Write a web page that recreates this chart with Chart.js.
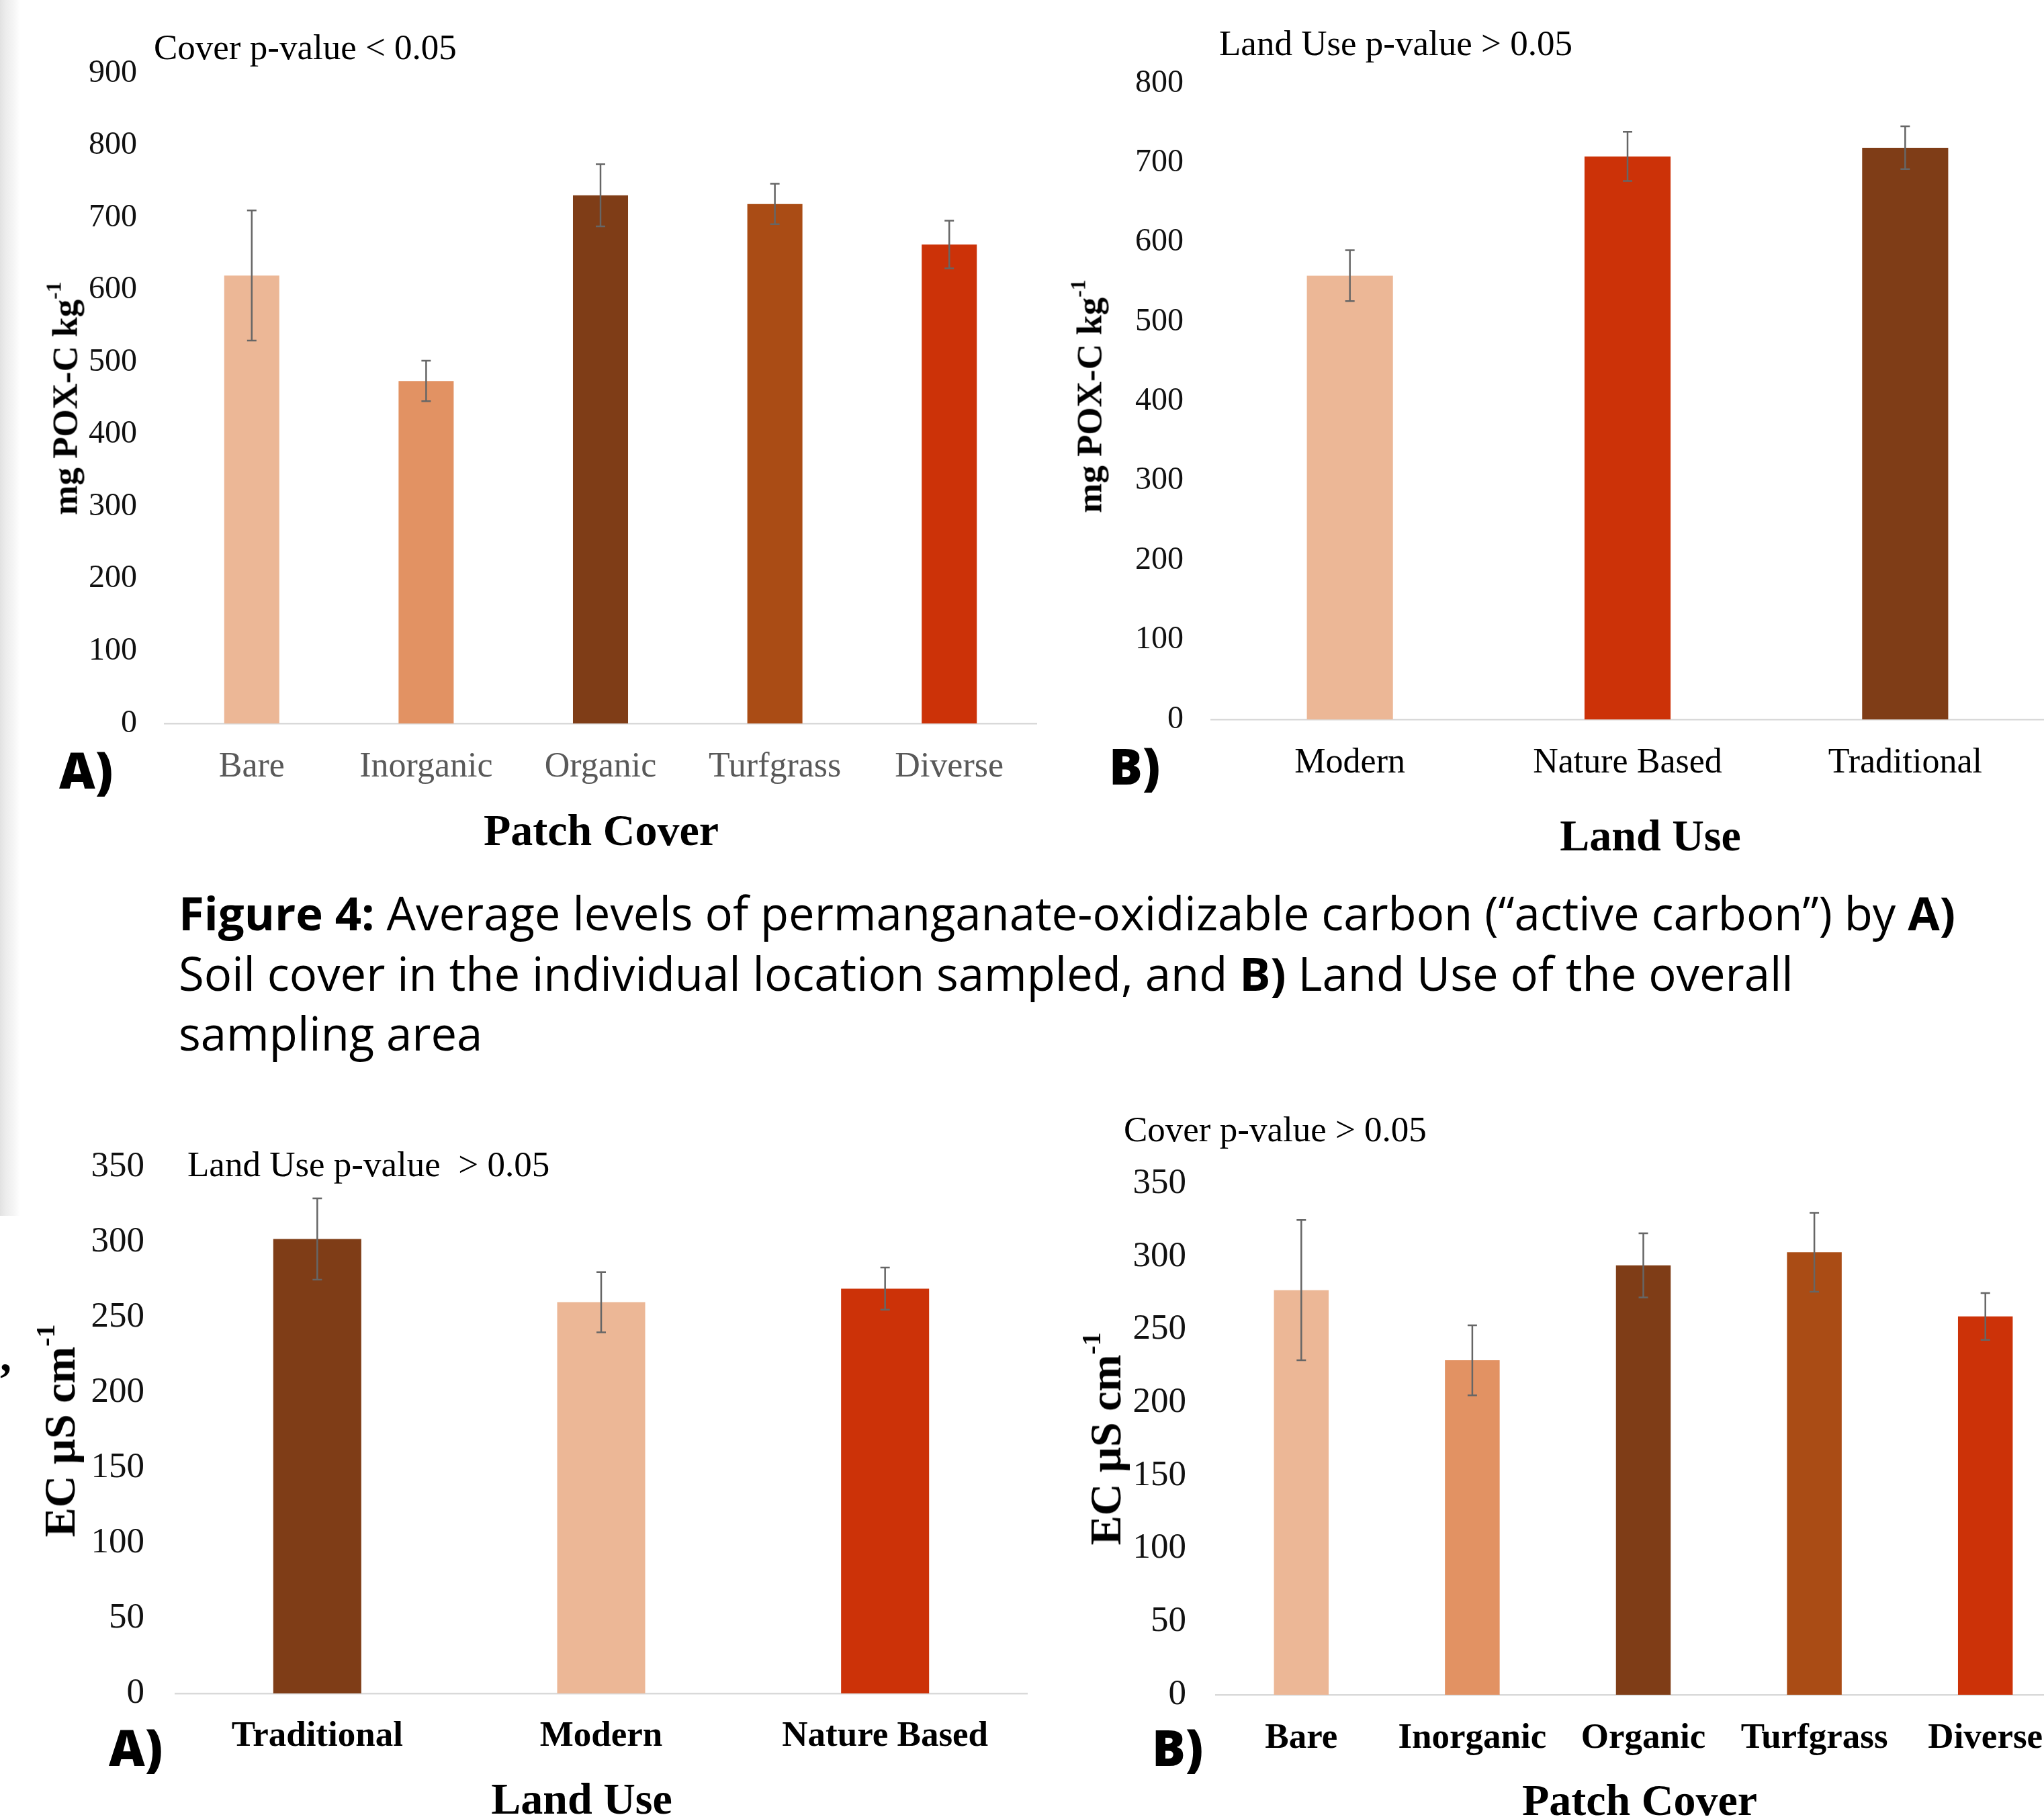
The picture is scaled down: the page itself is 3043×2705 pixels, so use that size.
<!DOCTYPE html>
<html>
<head>
<meta charset="utf-8">
<script src="https://cdn.jsdelivr.net/npm/chart.js@4.4.1/dist/chart.umd.min.js"></script>
<style>
html,body{margin:0;padding:0;background:#fff;width:3043px;height:2705px;overflow:hidden;}
#page{position:relative;width:3043px;height:2705px;overflow:hidden;background:#fff;}
#page canvas{position:absolute;}
.t{position:absolute;white-space:nowrap;line-height:1;font-family:'Liberation Serif','Times New Roman',serif;color:#000;}
.c{transform:translate(-50%,-50%);}
.l{transform:translate(0,-50%);}
.r{transform:translate(-50%,-50%) rotate(-90deg);}
.b{font-weight:bold;}
.panel{font-family:'Open Sans','Liberation Sans',sans-serif;font-weight:800;}
.cap{position:absolute;white-space:nowrap;font-family:'Open Sans','Noto Sans',sans-serif;color:#000;line-height:1;}
sup{font-size:60%;vertical-align:0;position:relative;top:-0.75em;}
#strip{position:absolute;left:0;top:0;width:30px;height:1810px;
  background:linear-gradient(to right,#e2e2e2 0px,#ececec 8px,#f5f5f5 20px,#ffffff 30px);}
</style>
</head>
<body>
<div id="page">
  <div id="strip"></div>
</div>
<script>
// ---------------- DATA ----------------
const coverCategories = ['Bare', 'Inorganic', 'Organic', 'Turfgrass', 'Diverse'];
const landUseCategoriesPOX = ['Modern', 'Nature Based', 'Traditional'];
const landUseCategoriesEC = ['Traditional', 'Modern', 'Nature Based'];

const poxByCover = [620, 474, 731, 719, 663];
const poxByCoverErr = [90, 28, 43, 28, 33];

const poxByLandUse = [558, 708, 719];
const poxByLandUseErr = [32, 31, 27];

const ecByLandUse = [302, 260, 269];
const ecByLandUseErr = [27, 20, 14];

const ecByCover = [277, 229, 294, 303, 259];
const ecByCoverErr = [48, 24, 22, 27, 16];

const poxCoverAxis = {max: 900, step: 100};
const poxLandAxis = {max: 800, step: 100};
const ecAxis = {max: 350, step: 50};

// ---------------- STYLE ----------------
const SERIF = "'Liberation Serif','Times New Roman',serif";
const C_BARE = '#ECB796', C_INORG = '#E29263', C_ORG = '#7F3D17', C_TURF = '#AA4C15', C_DIV = '#CC3208';
const coverColors = [C_BARE, C_INORG, C_ORG, C_TURF, C_DIV];
const landPOXColors = [C_BARE, C_DIV, C_ORG];
const landECColors = [C_ORG, C_BARE, C_DIV];

const page = document.getElementById('page');

const errorBarPlugin = {
  id: 'errbars',
  afterDatasetsDraw(chart) {
    const ctx = chart.ctx, ys = chart.scales.y;
    chart.data.datasets.forEach((ds, di) => {
      const meta = chart.getDatasetMeta(di);
      meta.data.forEach((bar, i) => {
        const v = ds.data[i], e = ds.errors[i];
        const yt = ys.getPixelForValue(v + e), yb = ys.getPixelForValue(v - e);
        const x = bar.x;
        ctx.save();
        ctx.strokeStyle = '#666666';
        ctx.lineWidth = 2.5;
        ctx.beginPath();
        ctx.moveTo(x, yt); ctx.lineTo(x, yb);
        ctx.moveTo(x - 7, yt); ctx.lineTo(x + 7, yt);
        ctx.moveTo(x - 7, yb); ctx.lineTo(x + 7, yb);
        ctx.stroke();
        ctx.restore();
      });
    });
  }
};

function makeChart(box, cats, vals, errs, colors, axis, cfg) {
  const c = document.createElement('canvas');
  c.width = box.w; c.height = box.h;
  c.style.left = box.l + 'px'; c.style.top = box.t + 'px';
  c.style.width = box.w + 'px'; c.style.height = box.h + 'px';
  page.appendChild(c);
  return new Chart(c, {
    type: 'bar',
    data: {
      labels: cats,
      datasets: [{
        data: vals, errors: errs, backgroundColor: colors, borderWidth: 0,
        categoryPercentage: 1, barPercentage: cfg.barPct
      }]
    },
    options: {
      responsive: false, maintainAspectRatio: false, animation: false, devicePixelRatio: 1,
      layout: {padding: {top: cfg.pt, right: cfg.pr, bottom: 0, left: 0}},
      plugins: {legend: {display: false}, tooltip: {enabled: false}, title: {display: false}},
      scales: {
        x: {
          grid: {display: false, drawTicks: false},
          border: {display: true, color: '#d9d9d9', width: 2.5},
          ticks: {padding: cfg.xpad, color: cfg.xColor, maxRotation: 0, autoSkip: false,
                  font: {family: SERIF, size: cfg.xSize, weight: cfg.xWeight, lineHeight: 1.2}},
          afterFit: s => { s.height = cfg.xh; }
        },
        y: {
          min: 0, max: axis.max,
          grid: {display: false, drawTicks: false},
          border: {display: false},
          ticks: {stepSize: axis.step, padding: cfg.ypad, color: '#111',
                  font: {family: SERIF, size: cfg.ySize}},
          afterFit: s => { s.width = cfg.yw; }
        }
      }
    },
    plugins: [errorBarPlugin]
  });
}

// Top-left: POX by patch cover
makeChart({l: 0, t: 0, w: 1560, h: 1300}, coverCategories, poxByCover, poxByCoverErr, coverColors, poxCoverAxis,
  {barPct: 0.316, pt: 109, pr: 17, xh: 223, yw: 245, xpad: 34, ypad: 41, xSize: 52, xWeight: 'normal', xColor: '#595959', ySize: 48});
// Top-right: POX by land use
makeChart({l: 1560, t: 0, w: 1483, h: 1300}, landUseCategoriesPOX, poxByLandUse, poxByLandUseErr, landPOXColors, poxLandAxis,
  {barPct: 0.31, pt: 124, pr: 0, xh: 229, yw: 243, xpad: 34, ypad: 41, xSize: 52, xWeight: 'normal', xColor: '#000', ySize: 48});
// Bottom-left: EC by land use
makeChart({l: 0, t: 1600, w: 1560, h: 1105}, landUseCategoriesEC, ecByLandUse, ecByLandUseErr, landECColors, ecAxis,
  {barPct: 0.31, pt: 137, pr: 31, xh: 184, yw: 261, xpad: 33, ypad: 46, xSize: 53, xWeight: 'bold', xColor: '#000', ySize: 53});
// Bottom-right: EC by patch cover
makeChart({l: 1560, t: 1600, w: 1523, h: 1105}, coverCategories, ecByCover, ecByCoverErr, coverColors, ecAxis,
  {barPct: 0.32, pt: 162, pr: 0, xh: 182, yw: 250, xpad: 34, ypad: 44, xSize: 53, xWeight: 'bold', xColor: '#000', ySize: 53});

// ---------------- TEXT ----------------
function txt(html, x, y, cls, size, extra) {
  const d = document.createElement('div');
  d.className = 't ' + cls;
  d.innerHTML = html;
  d.style.left = x + 'px'; d.style.top = y + 'px'; d.style.fontSize = size + 'px';
  if (extra) Object.assign(d.style, extra);
  page.appendChild(d);
  return d;
}
// significance notes
txt('Cover p-value &lt; 0.05', 229, 70, 'l', 53);
txt('Land Use p-value &gt; 0.05', 1815, 64, 'l', 53);
txt('Land Use p-value&nbsp; &gt; 0.05', 279, 1733, 'l', 53);
txt('Cover p-value &gt; 0.05', 1673, 1681, 'l', 53);
// x-axis titles
txt('Patch Cover', 895, 1236, 'c b', 66);
txt('Land Use', 2457, 1244, 'c b', 66);
txt('Land Use', 866, 2678, 'c b', 66);
txt('Patch Cover', 2441, 2680, 'c b', 66);
// y-axis titles
txt('mg POX-C kg<sup>-1</sup>', 97, 593, 'r b', 53);
txt('mg POX-C kg<sup>-1</sup>', 1622, 590, 'r b', 53);
txt('EC µS cm<sup>-1</sup>', 89, 2130, 'r b', 66);
txt('EC µS cm<sup>-1</sup>', 1646, 2142, 'r b', 66);
// panel letters
txt('A)', 88, 1146, 'l panel', 74);
txt('B)', 1651, 1140, 'l panel', 74);
txt('A)', 162, 2601, 'l panel', 74);
txt('B)', 1715, 2601, 'l panel', 74);
// stray comma at left edge
txt(',', 0, 2018, 'l b', 68);

// caption
const capLines = [
  '<b>Figure 4:</b> Average levels of permanganate-oxidizable carbon (“active carbon”) by <b>A)</b>',
  'Soil cover in the individual location sampled, and <b>B)</b> Land Use of the overall',
  'sampling area'
];
const capY = [1358, 1448, 1537];
const capEls = capLines.map((h, i) => {
  const d = document.createElement('div');
  d.className = 'cap';
  d.innerHTML = h;
  d.style.left = '266px';
  d.style.top = capY[i] + 'px';
  d.style.fontSize = '60px';
  d.style.transform = 'translate(0,-50%)';
  page.appendChild(d);
  return d;
});
const w0 = capEls[0].getBoundingClientRect().width;
const fs = 60 * 2645 / w0;
capEls.forEach(d => { d.style.fontSize = fs.toFixed(2) + 'px'; });
</script>
</body>
</html>
